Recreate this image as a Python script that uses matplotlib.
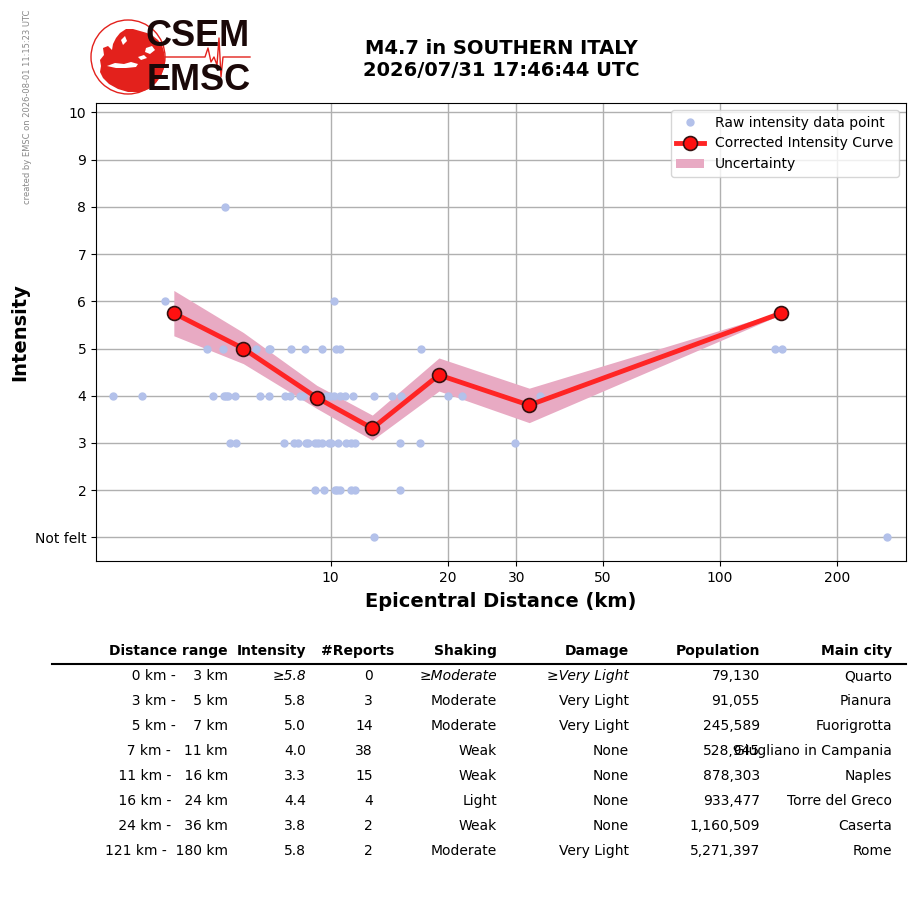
import matplotlib
import numpy as np
from matplotlib.lines import Line2D
from matplotlib.patches import Circle, Polygon

matplotlib.use('Agg')
from matplotlib import pyplot as plt

W, H = 915, 905

# raw intensity reports, grouped by intensity level (distance in km)
raw_i8 = [5.37]
raw_i6 = [3.75, 10.20]
raw_i5 = [4.81, 5.29, 6.44, 6.93, 7.01, 7.90, 8.60, 9.50, 10.30, 10.59,
          17.06, 138.2, 144.3]
raw_i4 = [2.77, 3.29, 4.98, 5.32, 5.39, 5.45, 5.68, 6.60, 6.94, 7.66, 7.86,
          8.33, 8.52, 9.71, 9.94, 10.20, 10.57, 10.89, 11.41, 12.90, 14.39,
          15.20, 20.03, 21.81, 34.57]
raw_i3 = [5.52, 5.72, 7.59, 8.08, 8.23, 8.63, 8.74, 9.12, 9.29, 9.48, 9.92,
          10.05, 10.44, 10.96, 11.30, 11.53, 15.07, 16.96, 29.69]
raw_i2 = [9.11, 9.62, 10.29, 10.39, 10.59, 11.27, 11.53, 15.07]
raw_i1 = [12.92, 268.8]

# corrected intensity curve and its uncertainty
curve_dist = [3.96, 5.97, 9.22, 12.80, 18.98, 32.35, 143.5]
curve_int = [5.75, 5.00, 3.96, 3.31, 4.44, 3.80, 5.75]
band_lo = [5.27, 4.68, 3.73, 3.06, 4.10, 3.43, 5.72]
band_hi = [6.23, 5.34, 4.22, 3.59, 4.80, 4.16, 5.78]

x_ticks = [10, 20, 30, 50, 100, 200]
y_ticks = [1, 2, 3, 4, 5, 6, 7, 8, 9, 10]
y_ticklabels = ['Not felt', '2', '3', '4', '5', '6', '7', '8', '9', '10']

# summary table
dist_lo = [0, 3, 5, 7, 11, 16, 24, 121]
dist_hi = [3, 5, 7, 11, 16, 24, 36, 180]
tab_int = ['\u22655.8', '5.8', '5.0', '4.0', '3.3', '4.4', '3.8', '5.8']
tab_reports = [0, 3, 14, 38, 15, 4, 2, 2]
tab_shaking = ['\u2265Moderate', 'Moderate', 'Moderate', 'Weak', 'Weak',
               'Light', 'Weak', 'Moderate']
tab_damage = ['\u2265Very Light', 'Very Light', 'Very Light', 'None', 'None',
              'None', 'None', 'Very Light']
tab_population = [79130, 91055, 245589, 528945, 878303, 933477, 1160509,
                  5271397]
tab_city = ['Quarto', 'Pianura', 'Fuorigrotta', 'Giugliano in Campania',
            'Naples', 'Torre del Greco', 'Caserta', 'Rome']


def fx(px):
    return px / W


def fy(py):
    return 1 - py / H


fig = plt.figure(figsize=(W / 100, H / 100), dpi=100)
ax = fig.add_axes([fx(96), fy(561), fx(906) - fx(96), fy(103) - fy(561)])

raw_color = '#b3c1ea'
first = True
for lev, dists in [(8, raw_i8), (6, raw_i6), (5, raw_i5), (4, raw_i4),
                   (3, raw_i3), (2, raw_i2), (1, raw_i1)]:
    ax.plot(dists, [lev] * len(dists), 'o', ms=5, color=raw_color,
            linestyle='none', zorder=3,
            label='Raw intensity data point' if first else None)
    first = False

ax.fill_between(curve_dist, band_lo, band_hi, color='#e8aac3', lw=0,
                zorder=2, label='Uncertainty')
ax.plot(curve_dist, curve_int, '-o', color='#ff2424', lw=3.5, ms=10,
        mfc='#ff1010', mec='#331111', mew=1.2, zorder=4,
        label='Corrected Intensity Curve')

ax.set_xscale('log')
ax.set_xlim(2.5, 300)
ax.set_ylim(0.5, 10.2)
ax.set_xticks(x_ticks)
ax.set_xticklabels([str(t) for t in x_ticks])
ax.xaxis.set_minor_locator(matplotlib.ticker.NullLocator())
ax.set_yticks(y_ticks)
ax.set_yticklabels(y_ticklabels)
ax.tick_params(labelsize=10)
ax.grid(True, color='#b0b0b0', lw=1, zorder=0)
ax.set_axisbelow(True)
ax.set_xlabel('Epicentral Distance (km)', fontsize=14, fontweight='bold',
              labelpad=5.5)
ax.set_ylabel('Intensity', fontsize=14, fontweight='bold', labelpad=4)

handles, labels = ax.get_legend_handles_labels()
order = [labels.index('Raw intensity data point'),
         labels.index('Corrected Intensity Curve'),
         labels.index('Uncertainty')]
ax.legend([handles[i] for i in order], [labels[i] for i in order],
          loc='upper right', fontsize=10)

fig.text(fx(501), fy(49), 'M4.7 in SOUTHERN ITALY', ha='center',
         va='center', fontsize=14, fontweight='bold')
fig.text(fx(501), fy(71), '2026/07/31 17:46:44 UTC', ha='center',
         va='center', fontsize=14, fontweight='bold')
fig.text(fx(28), fy(10), 'created by EMSC on 2026-08-01 11:15:23 UTC',
         rotation=90, ha='center', va='top', fontsize=6, color='#888888')

# logo
lax = fig.add_axes([fx(88), fy(98), fx(254) - fx(88), fy(17) - fy(98)])
lax.set_xlim(88, 254)
lax.set_ylim(98, 17)
lax.axis('off')
logo_red = '#e3211c'
lax.add_patch(Circle((128, 57), 37, fill=False, ec=logo_red, lw=1))
land = [(101, 66), (100, 60), (104, 55), (103, 48), (108, 46), (112, 50),
        (113, 44), (116, 38), (120, 33), (126, 29), (133, 29), (140, 31),
        (147, 33), (153, 36), (158, 40), (162, 45), (164, 52), (165, 60),
        (164, 68), (161, 76), (156, 83), (149, 89), (140, 92), (128, 92),
        (118, 89), (109, 84), (103, 78), (100, 72)]
lax.add_patch(Polygon(land, closed=True, fc=logo_red, ec='none'))
seas = [
    [(107, 66), (115, 63), (124, 64), (131, 62), (138, 64), (136, 67),
     (126, 68), (116, 68)],
    [(138, 57), (144, 55), (147, 58), (141, 60)],
    [(121, 40), (125, 36), (127, 41), (123, 45)],
    [(146, 48), (152, 46), (155, 50), (150, 54), (145, 52)],
]
for sea in seas:
    lax.add_patch(Polygon(sea, closed=True, fc='white', ec='none'))
seis_x = [165, 205, 208, 211, 214, 217, 219, 221, 223, 250]
seis_y = [57, 57, 48, 62, 57, 65, 38, 77, 57, 57]
lax.plot(seis_x, seis_y, color=logo_red, lw=1)
lax.text(198, 37, 'CSEM', ha='center', va='center', fontsize=26,
         fontweight='bold', family='Liberation Sans', color='#1a0808')
lax.text(199, 81, 'EMSC', ha='center', va='center', fontsize=26,
         fontweight='bold', family='Liberation Sans', color='#1a0808')

# table
header_y = 651
headers = [('Distance range', 228), ('Intensity', 306), ('#Reports', 394),
           ('Shaking', 497), ('Damage', 629), ('Population', 760),
           ('Main city', 892)]
for txt, xr in headers:
    fig.text(fx(xr), fy(header_y), txt, ha='right', va='center',
             fontsize=10, fontweight='bold')
fig.add_artist(Line2D([fx(52), fx(906)], [fy(664), fy(664)], color='black',
                      lw=1.5))

for i in range(len(dist_lo)):
    y = fy(676 + 25 * i)
    style = 'italic' if i == 0 else 'normal'
    fig.text(fx(228), y, '%3d km -  %3d km' % (dist_lo[i], dist_hi[i]),
             ha='right', va='center', fontsize=10)
    fig.text(fx(306), y, tab_int[i], ha='right', va='center', fontsize=10,
             style=style)
    fig.text(fx(373), y, str(tab_reports[i]), ha='right', va='center',
             fontsize=10)
    fig.text(fx(497), y, tab_shaking[i], ha='right', va='center',
             fontsize=10, style=style)
    fig.text(fx(629), y, tab_damage[i], ha='right', va='center',
             fontsize=10, style=style)
    fig.text(fx(760), y, '{:,}'.format(tab_population[i]), ha='right',
             va='center', fontsize=10)
    fig.text(fx(892), y, tab_city[i], ha='right', va='center', fontsize=10)

fig.savefig('out.png', dpi=100)
